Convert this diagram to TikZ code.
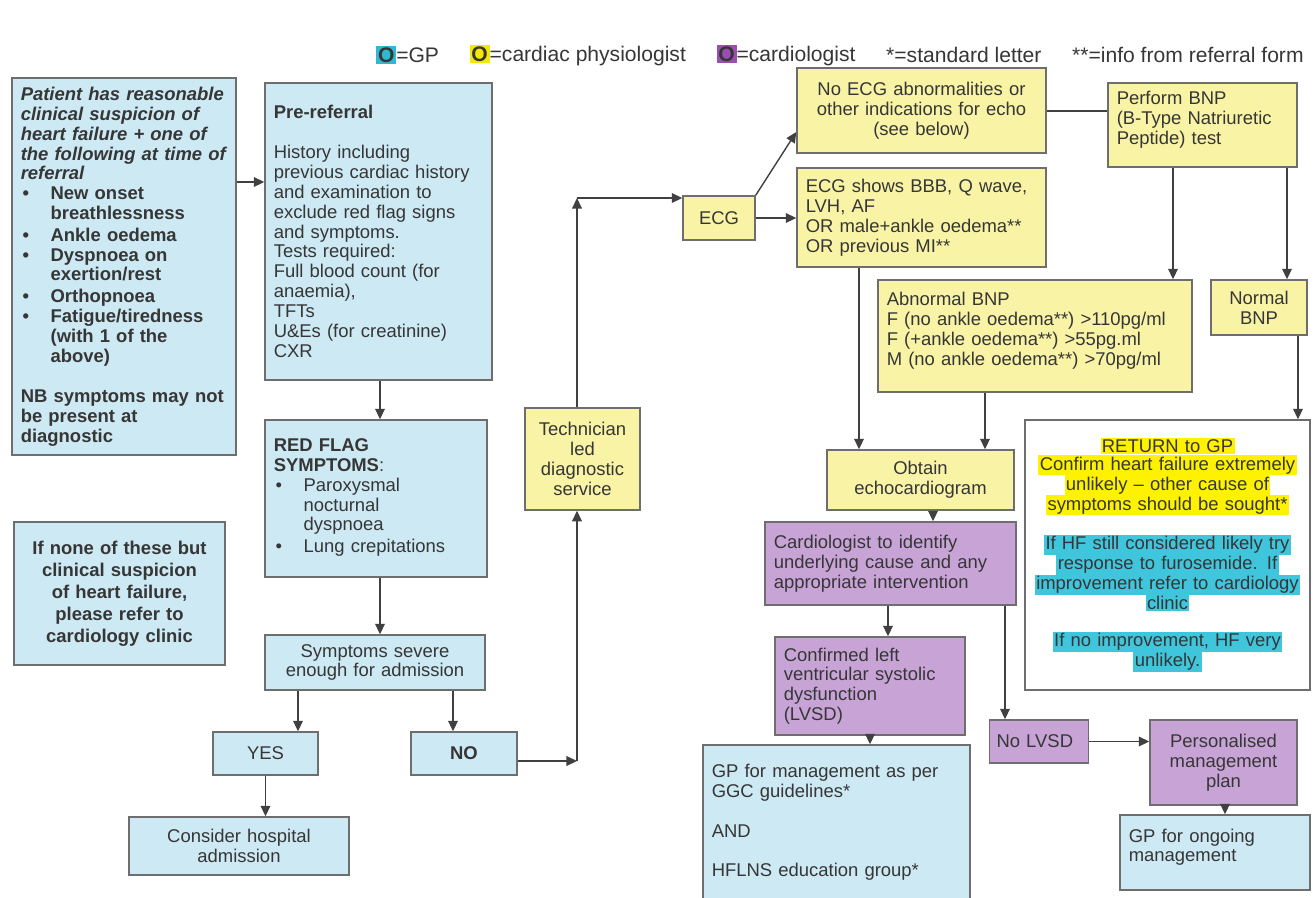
\documentclass[tikz,border=0pt]{standalone}
\usepackage{fontspec}
\setmainfont{Liberation Sans}
\usetikzlibrary{arrows.meta}
\usetikzlibrary{calc}
\usetikzlibrary{positioning}

\definecolor{gpblue}{HTML}{CDE9F3}
\definecolor{physyellow}{HTML}{F9F3A6}
\definecolor{cardpurple}{HTML}{C8A4D6}
\definecolor{boxline}{HTML}{6E6E6E}
\definecolor{txtgrey}{HTML}{363636}
\definecolor{hlyellow}{HTML}{FFF200}
\definecolor{hlcyan}{HTML}{3FC6DD}
\definecolor{legcyan}{HTML}{2FB8D2}
\definecolor{legyellow}{HTML}{F4E800}
\definecolor{legpurple}{HTML}{9A4FB0}

\setlength{\parindent}{0pt}
\newcommand{\bitem}[1]{\par\noindent\makebox[17pt][l]{\hspace{1pt}\textbullet}%
    \parbox[t]{\dimexpr\hsize-17pt\relax}{\raggedright\strut #1\strut}\par}
\newcommand{\gap}{\par\vspace{\baselineskip}}
\newcommand{\hlY}[1]{\colorbox{hlyellow}{#1}}
\newcommand{\hlC}[1]{\colorbox{hlcyan}{#1}}
\newcommand{\legsq}[1]{{\setlength{\fboxsep}{1pt}\colorbox{#1}{\textbf{O}}}}

\begin{document}
\begin{tikzpicture}[x=0.02cm, y=-0.02cm, font=\fontsize{10.5}{11.3}\selectfont, text=txtgrey,
        dims/.code 2 args={\pgfmathsetlengthmacro\bw{#1*0.02cm}\pgfmathsetlengthmacro\bh{#2*0.02cm}%
            \pgfmathsetlengthmacro\tw{#1*0.02cm-10pt}%
            \edef\tmp{\noexpand\tikzset{minimum width=\bw, minimum height=\bh, text width=\tw}}\tmp},
        box_style/.style={draw=boxline, line width=0.8pt, inner sep=4pt, align=left},
        gp_style/.style={box_style, fill=gpblue},
        phys_style/.style={box_style, fill=physyellow},
        card_style/.style={box_style, fill=cardpurple},
        legend_style/.style={anchor=west, inner sep=0pt, font=\fontsize{12}{14}\selectfont},
        edge_style/.style={draw=black!75, line width=0.8pt, -{Triangle[length=6pt,width=5.5pt]}},
        line_style/.style={draw=black!75, line width=0.8pt}]

        \useasboundingbox (0,0) rectangle (1313,897);

        % legend
        \node [legend_style] (leg_gp) at (376,55) {\legsq{legcyan}=GP};
        \node [legend_style, right=0.6cm of leg_gp] (leg_phys) {\legsq{legyellow}=cardiac physiologist};
        \node [legend_style, right=0.6cm of leg_phys] (leg_card) {\legsq{legpurple}=cardiologist};
        \node [legend_style, right=0.6cm of leg_card] (leg_std) {*=standard letter};
        \node [legend_style, right=0.6cm of leg_std] (leg_info) {**=info from referral form};

        % GP side
        \node [gp_style, dims={224}{377}] (patient) at (124,266.5) {\bfseries
            {\itshape Patient has reasonable\\clinical suspicion of\\heart failure + one of\\the following at time of\\referral\par}
            \bitem{New onset\\breathlessness}
            \bitem{Ankle oedema}
            \bitem{Dyspnoea on\\exertion/rest}
            \bitem{Orthopnoea}
            \bitem{Fatigue/tiredness\\(with 1 of the\\above)}
            \gap NB symptoms may not\\be present at\\diagnostic};

        \node [gp_style, dims={227}{297}] (pre) at (378.5,231.5) {\textbf{Pre-referral}\gap
            History including\\previous cardiac history\\and examination to\\exclude red flag signs\\and symptoms.\\Tests required:\\Full blood count (for\\anaemia),\\TFTs\\U\&Es (for creatinine)\\CXR};

        \node [gp_style, dims={222}{157}] (red) at (376,498.5) {\textbf{RED FLAG\\SYMPTOMS}:
            \bitem{Paroxysmal\\nocturnal\\dyspnoea}
            \bitem{Lung crepitations}};

        \node [gp_style, dims={211}{143}, align=center, font=\fontsize{10.5}{12.5}\selectfont\bfseries] (none) at (119.5,593.5)
            {If none of these but\\clinical suspicion\\of heart failure,\\please refer to\\cardiology clinic};

        \node [gp_style, dims={220}{55}, align=center] (sev) at (375,662.5) {Symptoms severe\\enough for admission};
        \node [gp_style, dims={105}{43}, align=center] (yes) at (265.5,753.5) {YES};
        \node [gp_style, dims={106}{43}, align=center] (no) at (464,753.5) {\textbf{NO}};
        \node [gp_style, dims={220}{58}, align=center] (consider) at (239,846) {Consider hospital\\admission};

        % physiologist side
        \node [phys_style, dims={115}{102}, align=center] (tech) at (582.5,459) {Technician\\led\\diagnostic\\service};
        \node [phys_style, dims={72}{44}, align=center] (ecg) at (719,218) {ECG};
        \node [phys_style, dims={249}{85}, align=center] (noecg) at (921.5,110.5) {No ECG abnormalities or\\other indications for echo\\(see below)};
        \node [phys_style, dims={249}{99}] (ecgshows) at (921.5,217.5) {ECG shows BBB, Q wave,\\LVH, AF\\OR male+ankle oedema**\\OR previous MI**};
        \node [phys_style, dims={189}{84}] (bnp) at (1202.5,125) {Perform BNP\\(B-Type Natriuretic\\Peptide) test\par\vspace{6pt}};
        \node [phys_style, dims={314}{112}] (abn) at (1035,336) {Abnormal BNP\\F (no ankle oedema**) >110pg/ml\\F (+ankle oedema**) >55pg.ml\\M (no ankle oedema**) >70pg/ml\par\vspace{6pt}};
        \node [phys_style, dims={96}{55}, align=center] (normal) at (1259,307.5) {Normal\\BNP};
        \node [phys_style, dims={187}{60}, align=center] (echo) at (920.5,480) {Obtain\\echocardiogram};

        % return box
        \node [box_style, fill=white, dims={285}{270}, align=center] (ret) at (1167.5,555) {\setlength{\fboxsep}{0.8pt}%
            \hlY{RETURN to GP}\\[-1pt]\hlY{Confirm heart failure extremely}\\[-1pt]\hlY{unlikely -- other cause of}\\[-1pt]\hlY{symptoms should be sought*}\\[10pt]
            \hlC{If HF still considered likely try}\\[-1pt]\hlC{response to furosemide. If}\\[-1pt]\hlC{improvement refer to cardiology}\\[-1pt]\hlC{clinic}\\[10pt]
            \hlC{If no improvement, HF very}\\[-1pt]\hlC{unlikely.}};

        % cardiologist side
        \node [card_style, dims={251}{83}] (cardio) at (890.5,563.5) {Cardiologist to identify\\underlying cause and any\\appropriate intervention};
        \node [card_style, dims={190}{98}] (lvsd) at (870,686) {Confirmed left\\ventricular systolic\\dysfunction\\(LVSD)};
        \node [card_style, dims={92}{43}, text width=1.7cm] (nolvsd) at (1039,741.5) {No LVSD};
        \node [card_style, dims={147}{85}, align=center] (pers) at (1223.5,762.5) {Personalised\\management\\plan};
        \node [gp_style, dims={267}{155}] (gpm) at (836.5,822.5) {GP for management as per\\GGC guidelines*\gap AND\gap HFLNS education group*};
        \node [gp_style, dims={190}{75}] (gpo) at (1215,852.5) {GP for ongoing\\management\par\vspace{6pt}};

        \coordinate (nocorner) at (577,761);
        \coordinate (ecgcorner) at (577,198);

        \draw [edge_style] (patient.east |- 0,182) -- (pre.west |- 0,182);
        \draw [edge_style] (pre.south -| 380,0) -- (red.north -| 380,0);
        \draw [edge_style] (red.south -| 380,0) -- (sev.north -| 380,0);
        \draw [edge_style] (sev.south -| 298,0) -- (yes.north -| 298,0);
        \draw [edge_style] (sev.south -| 453,0) -- (no.north -| 453,0);
        \draw [edge_style] (yes.south) -- (consider.north -| yes.south);
        \draw [edge_style] (no.east |- nocorner) -- (nocorner);
        \draw [edge_style] (nocorner) -- (tech.south -| nocorner);
        \draw [edge_style] (tech.north -| ecgcorner) -- (ecgcorner);
        \draw [edge_style] (ecgcorner) -- (ecg.west |- ecgcorner);
        \draw [edge_style] (ecg.north east) -- (noecg.west |- 0,132);
        \draw [edge_style] (ecg.east) -- (ecgshows.west |- ecg.east);
        \draw [line_style] (noecg.east |- 0,111) -- (bnp.west |- 0,111);
        \draw [edge_style] (bnp.south -| 1173,0) -- (abn.north -| 1173,0);
        \draw [edge_style] (bnp.south -| 1287,0) -- (normal.north -| 1287,0);
        \draw [edge_style] (normal.south -| 1298,0) -- (ret.north -| 1298,0);
        \draw [edge_style] (ecgshows.south -| 859,0) -- (echo.north -| 859,0);
        \draw [edge_style] (abn.south -| 985,0) -- (echo.north -| 985,0);
        \draw [edge_style] (echo.south -| 933,0) -- (cardio.north -| 933,0);
        \draw [edge_style] (cardio.south -| 888,0) -- (lvsd.north -| 888,0);
        \draw [edge_style] (cardio.south -| 1005,0) -- (nolvsd.north -| 1005,0);
        \draw [edge_style] (lvsd.south -| 870,0) -- (gpm.north -| 870,0);
        \draw [edge_style] (nolvsd.east) -- (pers.west |- nolvsd.east);
        \draw [edge_style] (pers.south -| 1225,0) -- (gpo.north -| 1225,0);

\end{tikzpicture}
\end{document}
